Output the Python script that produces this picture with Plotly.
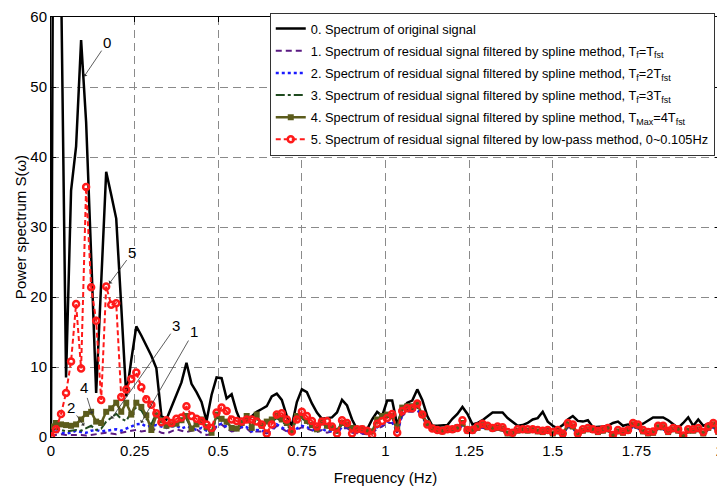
import numpy as np
import plotly.graph_objects as go

# Frequency grid (Hz)
df = 0.015
freq = np.arange(134) * df

# 0. spectrum of the original signal
s0_original = [
    0.5, 180, 66, 8.5, 35.2, 41.5, 56.7, 45, 26, 6.3,
    22, 37.9, 34.6, 31.2, 18.7, 5.8, 11, 15.8, 14.5, 13,
    11.6, 9.8, 3.0, 2.5, 4.2, 6.0, 7.8, 10.6, 7.6, 6.4,
    5.0, 2.3, 6.0, 8.5, 8.4, 5.5, 6.1, 3.6, 1.9, 2.3,
    2.9, 3.6, 4.0, 4.4, 5.8, 6.2, 5.3, 3.0, 1.6, 5.0,
    6.8, 6.4, 4.8, 3.5, 2.6, 2.7, 2.8, 3.5, 5.3, 4.5,
    2.5, 1.1, 1.2, 1.1, 2.5, 3.6, 3.0, 5.2, 5.2, 1.7,
    4.0, 4.9, 5.2, 6.8, 5.3, 3.0, 1.6, 1.6, 1.6, 1.7,
    2.6, 3.3, 4.3, 3.3, 1.8, 2.0, 2.4, 3.0, 3.5, 3.5,
    3.5, 2.7, 2.2, 1.6, 1.7, 2.0, 2.5, 2.7, 3.6, 2.2,
    1.6, 1.2, 1.7, 2.5, 3.0, 2.3, 2.2, 2.4, 1.4, 1.4,
    1.5, 1.6, 2.0, 2.2, 1.6, 1.8, 1.7, 1.6, 1.9, 2.4,
    2.8, 2.8, 2.8, 2.4, 1.9, 1.3, 2.0, 2.8, 1.6, 2.5,
    1.6, 1.9, 1.5, 1.1]

# 1. spline method, Tf = Tfst
s1_spline_1 = [
    0.2, 0.3, 0.4, 0.3, 0.3, 0.4, 0.3, 0.2, 0.3, 0.4,
    0.5, 0.6, 0.5, 0.4, 0.6, 0.8, 0.9, 1.0, 0.8, 0.9,
    1.2, 1.0, 0.6, 0.5, 0.8, 1.1, 0.9, 0.7, 0.9, 1.1,
    0.6, 0.3, 0.4, 1.5, 1.8, 1.2, 0.8, 0.9, 1.4, 1.2,
    0.6, 0.8, 0.8, 0.5, 0.9, 1.6, 1.2, 0.8, 0.4, 1.0,
    1.4, 1.2, 0.9, 0.7, 1.0, 0.6, 0.8, 0.6, 1.2, 1.3,
    0.6, 0.5, 0.5, 0.4, 0.5, 1.2, 1.5, 2.0, 2.0, 0.6,
    3.0, 3.6, 3.6, 3.8, 2.8, 1.6, 1.0, 0.7, 0.6, 0.8,
    0.8, 1.0, 1.6, 0.7, 0.7, 1.0, 1.3, 1.1, 0.9, 1.0,
    0.9, 0.4, 0.4, 0.7, 0.8, 0.7, 0.8, 0.6, 0.5, 0.7,
    0.4, 0.6, 0.3, 1.4, 1.2, 0.3, 0.7, 0.9, 0.8, 0.5,
    0.7, 0.9, 0.2, 0.6, 0.5, 0.7, 1.4, 1.2, 0.6, 0.4,
    0.5, 1.1, 1.1, 0.5, 0.9, 0.7, 0.1, 0.7, 0.7, 0.9,
    0.4, 1.0, 1.4, 0.5]

# 2. spline method, Tf = 2Tfst
s2_spline_2 = [
    0.3, 0.8, 0.6, 0.5, 0.6, 0.9, 0.7, 0.6, 0.9, 1.0,
    0.8, 0.9, 1.0, 1.1, 0.9, 1.2, 1.4, 1.8, 1.9, 1.5,
    1.6, 1.7, 1.5, 1.3, 1.5, 1.6, 1.2, 1.5, 1.3, 1.0,
    1.3, 0.9, 0.7, 1.6, 1.9, 1.4, 1.0, 1.0, 1.5, 1.4,
    0.8, 1.0, 0.9, 0.6, 1.1, 1.8, 1.4, 1.0, 0.5, 1.2,
    1.6, 1.4, 1.1, 0.8, 1.2, 0.8, 0.9, 0.7, 1.4, 1.4,
    0.7, 0.6, 0.6, 0.5, 0.6, 1.4, 1.7, 2.2, 2.2, 0.7,
    3.2, 3.8, 3.8, 4.0, 3.0, 1.7, 1.1, 0.8, 0.7, 0.9,
    0.9, 1.1, 1.7, 0.8, 0.8, 1.1, 1.4, 1.2, 1.0, 1.1,
    1.0, 0.5, 0.5, 0.8, 0.9, 0.8, 0.9, 0.7, 0.6, 0.8,
    0.5, 0.7, 0.4, 1.5, 1.3, 0.4, 0.8, 1.0, 0.9, 0.6,
    0.8, 1.0, 0.3, 0.7, 0.6, 0.8, 1.5, 1.3, 0.7, 0.5,
    0.6, 1.2, 1.2, 0.6, 1.0, 0.8, 0.2, 0.8, 0.8, 1.0,
    0.5, 1.1, 1.5, 0.6]

# 3. spline method, Tf = 3Tfst
s3_spline_3 = [
    0.8, 1.2, 1.0, 0.8, 0.9, 1.0, 0.9, 1.3, 1.6, 1.0,
    1.2, 2.2, 2.8, 3.3, 2.6, 2.3, 3.6, 4.2, 3.8, 2.6,
    1.8, 3.5, 2.2, 1.5, 1.6, 1.7, 2.1, 2.6, 1.1, 1.6,
    2.2, 1.2, 0.6, 2.8, 2.3, 1.9, 1.1, 1.1, 1.8, 2.6,
    1.1, 2.8, 1.4, 1.9, 2.2, 2.7, 2.2, 1.7, 0.9, 2.6,
    2.7, 2.0, 1.5, 1.0, 2.0, 1.4, 1.1, 0.8, 1.8, 1.6,
    1.1, 0.9, 1.0, 0.7, 0.7, 2.2, 2.7, 2.9, 2.7, 1.0,
    3.8, 4.0, 4.0, 4.3, 2.9, 1.8, 1.1, 0.9, 0.7, 1.0,
    0.9, 1.2, 1.8, 0.8, 0.8, 1.1, 1.5, 1.2, 1.0, 1.1,
    1.0, 0.4, 0.4, 0.8, 0.9, 0.8, 0.9, 0.7, 0.6, 0.8,
    0.4, 0.7, 0.3, 1.6, 1.3, 0.3, 0.8, 1.0, 0.9, 0.6,
    0.8, 1.0, 0.2, 0.7, 0.5, 0.8, 1.6, 1.4, 0.7, 0.4,
    0.5, 1.2, 1.2, 0.6, 1.0, 0.8, 0.1, 0.8, 0.8, 1.0,
    0.4, 1.1, 1.6, 0.6]

# 4. spline method, TMax = 4Tfst
s4_spline_max = [
    1.5, 2.0, 1.8, 1.7, 1.6, 1.8, 2.5, 3.3, 3.6, 2.2,
    2.0, 3.6, 4.1, 4.9, 3.6, 4.9, 3.2, 4.9, 4.3, 3.1,
    1.0, 3.1, 2.4, 1.6, 1.8, 1.9, 2.4, 3.0, 1.2, 1.8,
    2.5, 1.4, 0.6, 3.2, 2.6, 2.2, 1.3, 1.2, 2.0, 3.0,
    1.3, 3.2, 1.6, 2.2, 2.5, 3.0, 2.5, 2.0, 1.0, 3.0,
    3.0, 2.3, 1.7, 1.1, 2.3, 1.6, 1.3, 0.9, 2.0, 1.8,
    1.3, 1.0, 1.2, 0.8, 0.8, 2.5, 3.0, 3.2, 3.0, 1.2,
    4.2, 4.4, 4.4, 4.7, 3.2, 2.0, 1.3, 1.0, 0.8, 1.2,
    1.0, 1.4, 2.0, 0.9, 0.9, 1.3, 1.7, 1.4, 1.2, 1.3,
    1.2, 0.5, 0.5, 0.9, 1.0, 0.9, 1.0, 0.8, 0.7, 0.9,
    0.5, 0.8, 0.4, 1.8, 1.5, 0.4, 0.9, 1.1, 1.0, 0.7,
    0.9, 1.1, 0.2, 0.8, 0.6, 0.9, 1.8, 1.6, 0.8, 0.5,
    0.6, 1.4, 1.4, 0.7, 1.1, 0.9, 0.1, 0.9, 0.9, 1.1,
    0.5, 1.3, 1.8, 0.7]

# 5. low-pass method, 0~0.105 Hz
s5_lowpass = [
    0.1, 1.1, 3.3, 6.3, 10.8, 19, 9.8, 35.7, 21.4, 16.6,
    5.3, 21.5, 18.9, 19.1, 5.7, 6.8, 8.3, 9.2, 7.1, 5.4,
    4.6, 3.4, 2.1, 2.4, 2.0, 2.6, 2.8, 4.4, 3.0, 2.6,
    2.3, 1.8, 1.3, 3.5, 4.2, 3.7, 2.5, 2.3, 2.2, 2.5,
    2.5, 2.2, 1.8, 0.5, 1.8, 3.2, 3.4, 2.5, 0.8, 2.5,
    3.6, 3.0, 2.3, 1.5, 2.2, 2.3, 1.5, 0.5, 2.4, 2.0,
    0.5, 1.1, 1.1, 0.9, 0.3, 1.9, 2.3, 2.7, 3.3, 0.6,
    3.7, 4.1, 4.1, 4.8, 3.2, 1.8, 1.2, 1.0, 0.9, 1.1,
    1.1, 1.3, 2.4, 1.0, 1.0, 1.5, 1.9, 1.6, 1.3, 1.5,
    1.4, 0.7, 0.6, 1.1, 1.1, 1.1, 1.1, 1.0, 0.9, 1.0,
    0.7, 1.0, 0.5, 2.0, 1.8, 0.5, 1.1, 1.3, 1.1, 0.9,
    1.1, 1.3, 0.3, 1.0, 0.8, 1.0, 2.0, 1.8, 1.0, 0.7,
    0.8, 1.6, 1.6, 0.9, 1.3, 1.1, 0.2, 1.1, 1.1, 1.3,
    0.7, 1.5, 2.0, 0.9]

names = [
    "0. Spectrum of original signal",
    "1. Spectrum of residual signal filtered by spline method, T<sub>f</sub>=T<sub>fst</sub>",
    "2. Spectrum of residual signal filtered by spline method, T<sub>f</sub>=2T<sub>fst</sub>",
    "3. Spectrum of residual signal filtered by spline method, T<sub>f</sub>=3T<sub>fst</sub>",
    "4. Spectrum of residual signal filtered by spline method, T<sub>Max</sub>=4T<sub>fst</sub>",
    "5. Spectrum of residual signal filtered by low-pass method, 0~0.105Hz",
]

x_ticks = [0, 0.25, 0.5, 0.75, 1, 1.25, 1.5, 1.75, 2]
y_ticks = [0, 10, 20, 30, 40, 50, 60]

FONT = "Arial, Liberation Sans, sans-serif"

fig = go.Figure()
fig.add_trace(go.Scatter(x=freq, y=s0_original, name=names[0], legendgroup="g0",
                         mode="lines", line=dict(color="black", width=2.5)))
fig.add_trace(go.Scatter(x=freq, y=s1_spline_1, name=names[1], legendgroup="g1",
                         mode="lines", line=dict(color="#5a1a82", width=2, dash="6px,4px")))
fig.add_trace(go.Scatter(x=freq, y=s2_spline_2, name=names[2], legendgroup="g2",
                         mode="lines", line=dict(color="#1a1aff", width=2.5, dash="dot")))
fig.add_trace(go.Scatter(x=freq, y=s3_spline_3, name=names[3], legendgroup="g3",
                         mode="lines", line=dict(color="#1f4a1f", width=2, dash="dashdot")))
fig.add_trace(go.Scatter(x=freq, y=s4_spline_max, name=names[4], legendgroup="g4",
                         mode="lines+markers",
                         line=dict(color="#5c5c1c", width=2.5),
                         marker=dict(symbol="square", size=6, color="#5c5c1c")))
fig.add_trace(go.Scatter(x=freq, y=s5_lowpass, name=names[5], legendgroup="g5",
                         mode="lines+markers",
                         line=dict(color="#ff1a1a", width=2, dash="5px,3px"),
                         marker=dict(symbol="circle-open", size=6,
                                     line=dict(color="#ff1a1a", width=2.5))))

# Curve labels with leader arrows
labels = [
    ("0", 0.099, 51.5, 23, -34),
    ("5", 0.174, 21.9, 23, -31),
    ("3", 0.180, 2.6, 65, -93),
    ("1", 0.269, 2.0, 53, -92),
    ("4", 0.123, 3.3, -8, -26),
    ("2", 0.099, 1.6, -13, -18),
]
for txt, fx, fy, ax, ay in labels:
    fig.add_annotation(x=fx, y=fy, text=txt, showarrow=True, ax=ax, ay=ay,
                       arrowhead=1, arrowsize=1, arrowwidth=0.8, arrowcolor="#333",
                       font=dict(family=FONT, size=15, color="black"))

axis_common = dict(
    showline=True, linecolor="black", linewidth=1, mirror="ticks",
    ticks="inside", ticklen=5, tickcolor="black",
    showgrid=True, gridcolor="#8a8a8a", gridwidth=1, griddash="8px,5px",
    zeroline=False, automargin=False,
    tickfont=dict(family=FONT, size=15, color="black"),
)

fig.update_xaxes(range=[0, 2], tickvals=x_ticks,
                 title=dict(text="Frequency (Hz)", font=dict(family=FONT, size=15, color="black"),
                            standoff=14),
                 **axis_common)
fig.update_yaxes(range=[0, 60], tickvals=y_ticks,
                 title=dict(text="Power spectrum S(ω)", font=dict(family=FONT, size=15, color="black"),
                            standoff=0),
                 **axis_common)

# The canvas is a little wider than the window: the right edge of the axes
# and the legend run off the visible page.
fig.update_layout(
    width=740, height=487,
    margin=dict(l=51, r=20, t=17, b=50),
    plot_bgcolor="white", paper_bgcolor="white",
    font=dict(family=FONT, color="black"),
    legend=dict(x=0.327, y=1.010, xanchor="left", yanchor="top",
                bgcolor="white", bordercolor="#333", borderwidth=1,
                font=dict(family=FONT, size=12.8, color="black"),
                itemwidth=30, tracegroupgap=2.5),
)

fig.write_html(
    "out.html",
    post_script="document.documentElement.style.overflow='hidden';"
                "document.body.style.overflow='hidden';",
)
